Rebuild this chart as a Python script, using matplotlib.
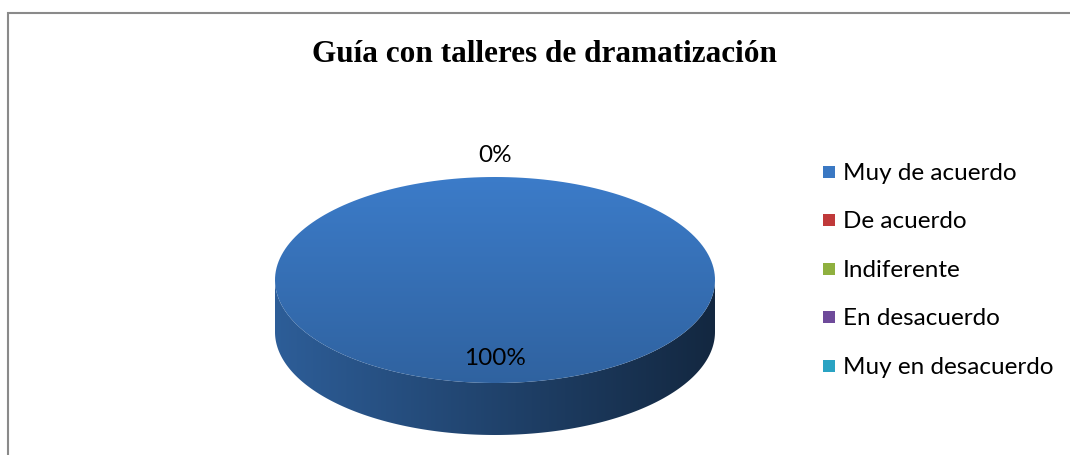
import numpy as np
import matplotlib.pyplot as plt
from matplotlib.path import Path
from matplotlib.patches import PathPatch, Rectangle
from matplotlib.colors import LinearSegmentedColormap, to_rgb

categories = ['Muy de acuerdo', 'De acuerdo', 'Indiferente', 'En desacuerdo', 'Muy en desacuerdo']
values = [100, 0, 0, 0, 0]
colors = ['#3a78c3', '#c0393a', '#8fb03f', '#6e4a9a', '#2aa3c3']
title = 'Guía con talleres de dramatización'

W, H = 1070, 455
fig = plt.figure(figsize=(W / 100, H / 100), dpi=100)
ax = fig.add_axes([0, 0, 1, 1])
ax.set_xlim(0, W)
ax.set_ylim(H, 0)
ax.axis('off')

# pie geometry in pixels
cx, cy, rx, ry, depth = 495, 280, 220, 103, 52


def arc(t0, t1, n=200, dy=0):
    t = np.linspace(t0, t1, n)
    return np.column_stack([cx + rx * np.sin(t), cy - ry * np.cos(t) + dy])


def shade(c, f):
    r = np.array(to_rgb(c))
    return tuple(np.clip(r * f, 0, 1))


def gradient_fill(path, c_from, c_to, horizontal, extent):
    cmap = LinearSegmentedColormap.from_list('g', [c_from, c_to])
    g = np.linspace(0, 1, 256)
    img = g[None, :] if horizontal else g[:, None]
    patch = PathPatch(path, facecolor='none', edgecolor='none')
    ax.add_patch(patch)
    im = ax.imshow(img, cmap=cmap, extent=extent, aspect='auto',
                   interpolation='bilinear', zorder=2)
    im.set_clip_path(patch)


total = float(sum(values))
fracs = [v / total for v in values]
starts = np.concatenate([[0], np.cumsum(fracs)[:-1]]) * 2 * np.pi

# sides (front half only)
for f, s, c in zip(fracs, starts, colors):
    if f <= 0:
        continue
    t0, t1 = max(s, np.pi / 2), min(s + f * 2 * np.pi, 3 * np.pi / 2)
    if t1 <= t0:
        continue
    top = arc(t0, t1)
    bot = arc(t0, t1, dy=depth)[::-1]
    verts = np.vstack([top, bot, top[:1]])
    path = Path(verts, closed=True)
    gradient_fill(path, shade(c, 0.78), shade(c, 0.33), True,
                  (cx - rx, cx + rx, cy + ry + depth, cy))

# top faces
for f, s, c in zip(fracs, starts, colors):
    if f <= 0:
        continue
    pts = arc(s, s + f * 2 * np.pi)
    if f < 1:
        pts = np.vstack([[cx, cy], pts])
    path = Path(np.vstack([pts, pts[:1]]), closed=True)
    gradient_fill(path, shade(c, 1.03), shade(c, 0.82), False,
                  (cx - rx, cx + rx, cy + ry, cy - ry))

# data labels
lab_font = dict(family='Lato', fontsize=17.5, color='#000000')
drawn = set()
for f, s in zip(fracs, starts):
    mid = s + f * np.pi
    k = 0.75 if f > 0 else 1.22
    x, y = cx + k * rx * np.sin(mid), cy - k * ry * np.cos(mid)
    key = (round(x), round(y))
    if key in drawn:
        continue
    drawn.add(key)
    ax.text(x, y + 1, '{:.0f}%'.format(f * 100), ha='center', va='center', **lab_font)

# legend
for i, (name, c) in enumerate(zip(categories, colors)):
    y = 172 + i * 48.4
    ax.add_patch(Rectangle((823, y - 6), 12, 12, facecolor=c, edgecolor='none'))
    ax.text(843, y + 1.5, name, ha='left', va='center', **lab_font)

ax.text(545, 55, title, ha='center', va='center', family='Liberation Serif',
        fontweight='bold', fontsize=22.5, color='#000000')

# chart border (left and top)
ax.plot([8, 8, W], [H, 13, 13], color='#8a8a8a', lw=1.5, solid_joinstyle='miter')

fig.savefig('out.png', dpi=100)
